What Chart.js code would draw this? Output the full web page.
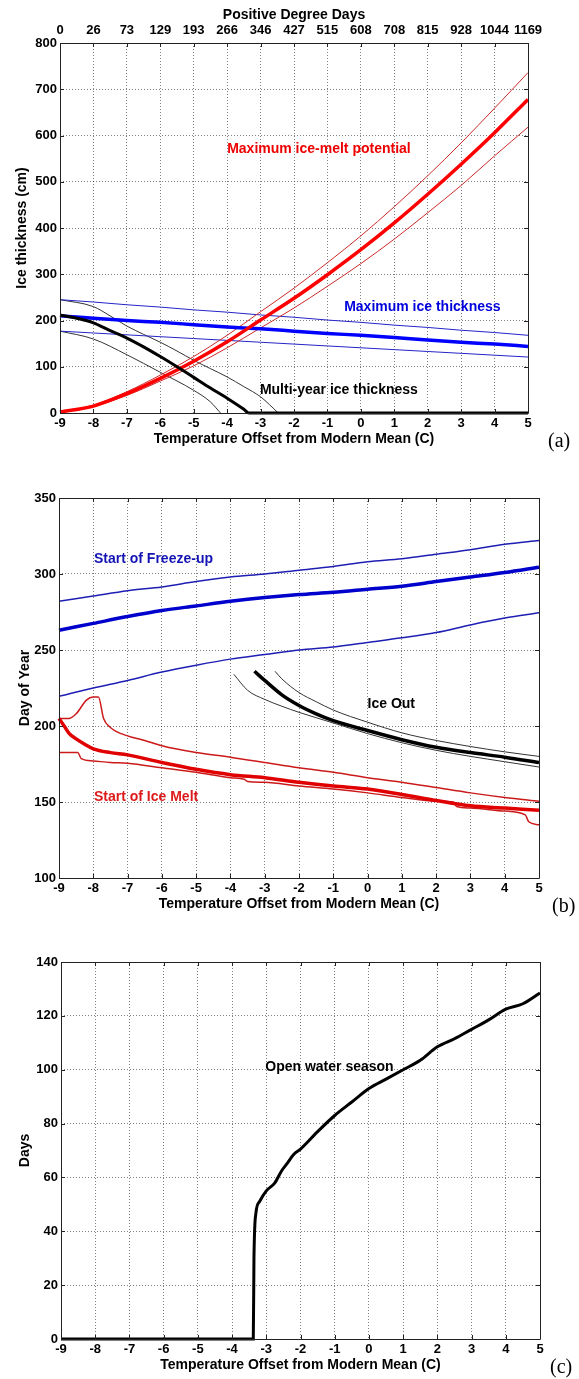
<!DOCTYPE html>
<html>
<head>
<meta charset="utf-8">
<script src="https://cdn.jsdelivr.net/npm/chart.js@4.4.1/dist/chart.umd.min.js"></script>
<style>
  html, body { margin: 0; padding: 0; background: #fff; }
  #page { position: relative; width: 579px; height: 1379px; overflow: hidden; }
  .panel { position: absolute; left: 0; }
  .tag { position: absolute; font-family: "Liberation Serif", "DejaVu Serif", serif; font-size: 20px; line-height: 23px; color: #000; }
</style>
</head>
<body>
<div id="page">
  <canvas id="chartA" class="panel" width="579" height="448" style="top:0px"></canvas>
  <canvas id="chartB" class="panel" width="579" height="455" style="top:458px"></canvas>
  <canvas id="chartC" class="panel" width="579" height="454" style="top:920px"></canvas>
  <div class="tag" style="left:548px; top:429px">(a)</div>
  <div class="tag" style="left:552px; top:894px">(b)</div>
  <div class="tag" style="left:550px; top:1355px">(c)</div>
</div>
<script>
// --- Panel (a): ice thickness vs temperature offset ---
const tempA = [-9, -8, -7, -6, -5, -4, -3, -2, -1, 0, 1, 2, 3, 4, 5];
const pddLabels = ['0', '26', '73', '129', '193', '266', '346', '427', '515', '608', '708', '815', '928', '1044', '1169'];
const meltMid = [2, 15, 42, 75, 112, 154, 201, 248, 299, 353, 411, 473, 538, 606, 678];
const meltHigh = [2, 17, 46, 82, 122, 168, 219, 270, 325, 383, 446, 513, 584, 659, 736];
const meltLow = [2, 14, 38, 69, 102, 141, 184, 227, 274, 323, 376, 433, 492, 556, 618];
const iceMaxMid = [210, 205, 200, 196, 191, 186, 182, 177, 172, 168, 163, 158, 153, 149, 144];
const iceMaxHigh = [245, 240, 234, 229, 223, 218, 212, 207, 201, 196, 190, 185, 179, 174, 168];
const iceMaxLow = [177, 173, 169, 165, 161, 157, 153, 149, 145, 141, 137, 133, 129, 125, 121];
const multiMidX = [-9, -8.5, -8, -7.5, -7, -6.5, -6, -5.5, -5, -4.5, -4, -3.5, -3.35, 5];
const multiMid = [212, 205, 195, 178, 162, 143, 122, 100, 77, 54, 32, 8, 0, 0];
const multiHighX = [-9, -8, -7.5, -7, -6.5, -6, -5.5, -5, -4.5, -4, -3.5, -3, -2.47];
const multiHigh = [245, 230, 210, 188, 170, 153, 134, 114, 96, 78, 57, 35, 0];
const multiLowX = [-9, -8, -7, -6, -5, -4.5, -4.2];
const multiLow = [177, 160, 126, 88, 49, 24, 0];

// --- Panel (b): day of year ---
const tempB = [-9, -8, -7, -6, -5, -4, -3, -2, -1, 0, 1, 2, 3, 4, 5];
const freezeHigh = [282, 285.5, 289, 291.5, 295, 298, 300, 302.5, 305, 308, 310, 313, 316, 319.5, 322];
const freezeMid = [263, 267.5, 272, 276, 279, 282, 284.5, 286.5, 288, 290, 292, 295, 298, 301, 304.5];
const freezeLow = [219.5, 225, 230, 235.5, 240, 244, 247, 250, 252, 255, 258, 261.5, 266.5, 271, 274.5];
const meltStartMidX = [-9, -8.85, -8.7, -8.5, -8.25, -8, -7.5, -7, -6, -5, -4, -3, -2, -1, 0, 1, 2, 3, 4, 5];
const meltStartMid = [205, 200, 195, 191.5, 188, 185, 182.5, 181, 176, 171.5, 168, 166, 163, 160.5, 158.5, 155, 151, 147.5, 146, 144.5];
const meltStartHighX = [-9, -8.7, -8.5, -8.2, -8, -7.85, -7.7, -7.5, -7, -6.5, -6, -5, -4, -3, -2, -1, 0, 1, 2, 3, 4, 5];
const meltStartHigh = [205, 205, 208, 217, 219, 219, 205, 199, 193.5, 190.5, 187, 182.5, 179.5, 176, 172.5, 169.5, 166, 163, 159.5, 156, 153, 150.5];
const meltStartLowX = [-9, -8.45, -8.35, -8, -7.5, -7, -6, -5, -4, -3.6, -3.5, -3, -2, -1, 0, 1, 2, 2.5, 2.6, 3, 4, 4.6, 4.7, 5];
const meltStartLow = [182.5, 182.5, 178.5, 177, 176, 175.5, 172.5, 169.5, 166, 165, 163.5, 163, 160.5, 158.5, 156, 153, 150.5, 150, 147, 146, 144, 141.5, 137, 135];
const iceOutMidX = [-3.3, -3, -2.5, -2, -1.5, -1, 0, 1, 2, 3, 4, 5];
const iceOutMid = [236, 230, 220.5, 213.5, 208, 203.5, 197, 191, 186, 182.5, 179.5, 176];
const iceOutHighX = [-2.7, -2.5, -2, -1.5, -1, 0, 1, 2, 3, 4, 5];
const iceOutHigh = [236, 231, 222, 216, 210.5, 202.5, 195.5, 190.5, 186.5, 183, 180];
const iceOutLowX = [-3.9, -3.5, -3, -2.5, -2, -1, 0, 1, 2, 3, 4, 5];
const iceOutLow = [234, 223.5, 217.5, 213, 209, 202, 195, 189, 184, 180, 176.5, 173];

// --- Panel (c): open water season ---
const openX = [-9, -3.38, -3.36, -3.3, -3.2, -3.0, -2.75, -2.55, -2.4, -2.2, -2.0, -1.5, -1, -0.5, 0, 0.5, 1, 1.5, 2, 2.5, 3, 3.5, 4, 4.5, 5];
const openDays = [0, 0, 30, 47, 51, 55, 58, 62.5, 65, 68.5, 70.5, 77, 83, 88, 93, 96.5, 100, 103.5, 108.5, 111.5, 115, 118.5, 122.5, 124.5, 128.5];

const FONT = "'Liberation Sans', Arial, sans-serif";
const tickFont = { family: FONT, size: 13, weight: 'bold' };
const titleFont = { family: FONT, size: 14, weight: 'bold' };

const fixWidth = (w) => (scale) => { scale.width = w; };
const fixHeight = (h) => (scale) => { scale.height = h; };

// box around plot area with short inward ticks, MATLAB style
const frame = {
  id: 'frame',
  afterDatasetsDraw(chart) {
    const { ctx, chartArea: a, scales } = chart;
    ctx.save();
    ctx.strokeStyle = '#222';
    ctx.lineWidth = 1;
    ctx.beginPath();
    ctx.rect(a.left + 0.5, a.top + 0.5, a.right - a.left, a.bottom - a.top);
    scales.x.ticks.forEach(t => {
      const px = Math.round(scales.x.getPixelForValue(t.value)) + 0.5;
      ctx.moveTo(px, a.bottom); ctx.lineTo(px, a.bottom - 4);
      ctx.moveTo(px, a.top); ctx.lineTo(px, a.top + 4);
    });
    scales.y.ticks.forEach(t => {
      const py = Math.round(scales.y.getPixelForValue(t.value)) + 0.5;
      ctx.moveTo(a.left, py); ctx.lineTo(a.left + 4, py);
      ctx.moveTo(a.right, py); ctx.lineTo(a.right - 4, py);
    });
    ctx.stroke();
    ctx.restore();
  }
};

// text labels placed at data coordinates
const notes = {
  id: 'notes',
  afterDatasetsDraw(chart, args, opts) {
    const { ctx, scales: { x, y } } = chart;
    ctx.save();
    ctx.font = `bold 14px ${FONT}`;
    ctx.textBaseline = 'middle';
    ctx.textAlign = 'left';
    (opts.items || []).forEach(n => {
      ctx.fillStyle = n.color;
      ctx.fillText(n.text, x.getPixelForValue(n.x), y.getPixelForValue(n.y));
    });
    ctx.restore();
  }
};

const series = (xs, ys, color, width) => ({
  data: xs.map((x, i) => ({ x, y: ys[i] })),
  borderColor: color,
  borderWidth: width,
  pointRadius: 0,
  fill: false,
  cubicInterpolationMode: 'monotone',
  clip: 6
});

const xAxis = () => ({
  type: 'linear',
  position: 'bottom',
  min: -9, max: 5,
  ticks: { stepSize: 1, font: tickFont, color: '#000', padding: 3, maxRotation: 0, autoSkip: false },
  grid: { color: 'rgba(0,0,0,0.5)', lineWidth: 1, drawTicks: false },
  border: { display: false, dash: [1, 2] },
  title: { display: true, text: 'Temperature Offset from Modern Mean (C)', font: titleFont, color: '#000', padding: { top: 0, bottom: 0 } },
  afterFit: fixHeight(35)
});

const yAxis = (min, max, step, text, width, titlePad) => ({
  type: 'linear',
  min, max,
  ticks: { stepSize: step, font: tickFont, color: '#000', padding: 3 },
  grid: { color: 'rgba(0,0,0,0.5)', lineWidth: 1, drawTicks: false },
  border: { display: false, dash: [1, 2] },
  title: { display: true, text, font: titleFont, color: '#000', padding: { top: titlePad, bottom: 0 } },
  afterFit: fixWidth(width)
});

const baseOptions = (padding, scales, items) => ({
  responsive: false,
  animation: false,
  layout: { padding, autoPadding: false },
  scales,
  plugins: { legend: { display: false }, tooltip: { enabled: false }, notes: { items } }
});

// Panel (a)
new Chart(document.getElementById('chartA'), {
  type: 'line',
  data: {
    datasets: [
      series(multiMidX, multiMid, '#000000', 3),
      series(tempA, meltMid, '#ff0000', 3.5),
      series(tempA, iceMaxMid, '#0000ff', 3.5),
      series(tempA, meltHigh, '#cc2a2a', 1),
      series(tempA, meltLow, '#cc2a2a', 1),
      series(tempA, iceMaxHigh, '#2424c8', 1),
      series(tempA, iceMaxLow, '#2424c8', 1),
      series(multiHighX, multiHigh, '#333333', 1),
      series(multiLowX, multiLow, '#333333', 1)
    ]
  },
  options: baseOptions({ left: 0, right: 51, top: 7, bottom: 0 }, {
    x: xAxis(),
    x2: {
      type: 'linear',
      position: 'top',
      min: -9, max: 5,
      ticks: { stepSize: 1, font: tickFont, color: '#000', padding: 5, maxRotation: 0, autoSkip: false,
               callback: (v, i) => pddLabels[i] },
      grid: { display: false, drawTicks: false },
      border: { display: false },
      title: { display: true, text: 'Positive Degree Days', font: titleFont, color: '#000', padding: { top: 0, bottom: 0 } },
      afterFit: fixHeight(36)
    },
    y: yAxis(0, 800, 100, 'Ice thickness (cm)', 60, 14)
  }, [
    { text: 'Maximum ice-melt potential', x: -4.0, y: 571, color: '#ee0000' },
    { text: 'Maximum ice thickness', x: -0.5, y: 229, color: '#0000dd' },
    { text: 'Multi-year ice thickness', x: -3.02, y: 49, color: '#000000' }
  ]),
  plugins: [frame, notes]
});

// Panel (b)
new Chart(document.getElementById('chartB'), {
  type: 'line',
  data: {
    datasets: [
      series(iceOutMidX, iceOutMid, '#000000', 3.5),
      series(meltStartMidX, meltStartMid, '#e00000', 3.5),
      series(tempB, freezeMid, '#0000cc', 3.5),
      series(iceOutHighX, iceOutHigh, '#333333', 1),
      series(iceOutLowX, iceOutLow, '#333333', 1),
      series(meltStartHighX, meltStartHigh, '#cc1a1a', 1.5),
      series(meltStartLowX, meltStartLow, '#cc1a1a', 1.5),
      series(tempB, freezeHigh, '#1e1eb4', 1.5),
      series(tempB, freezeLow, '#1e1eb4', 1.5)
    ]
  },
  options: baseOptions({ left: 0, right: 40, top: 40, bottom: 0 }, {
    x: xAxis(),
    y: yAxis(100, 350, 50, 'Day of Year', 59, 17)
  }, [
    { text: 'Start of Freeze-up', x: -7.98, y: 309.5, color: '#1414b4' },
    { text: 'Ice Out', x: 0, y: 214.7, color: '#000000' },
    { text: 'Start of Ice Melt', x: -7.98, y: 153, color: '#dd1a1a' }
  ]),
  plugins: [frame, notes]
});

// Panel (c)
new Chart(document.getElementById('chartC'), {
  type: 'line',
  data: {
    datasets: [
      series(openX, openDays, '#000000', 3)
    ]
  },
  options: baseOptions({ left: 0, right: 39, top: 42, bottom: 0 }, {
    x: xAxis(),
    y: yAxis(0, 140, 20, 'Days', 61, 17)
  }, [
    { text: 'Open water season', x: -3.03, y: 101, color: '#000000' }
  ]),
  plugins: [frame, notes]
});
</script>
</body>
</html>
